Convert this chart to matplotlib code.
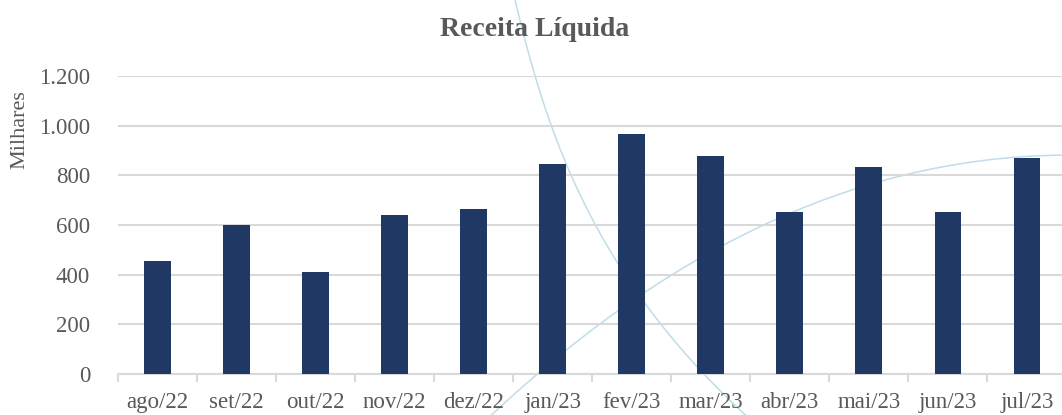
import numpy as np
import matplotlib.pyplot as plt
from matplotlib.lines import Line2D
from matplotlib.ticker import FuncFormatter, FixedLocator

meses = ["ago/22", "set/22", "out/22", "nov/22", "dez/22", "jan/23",
         "fev/23", "mar/23", "abr/23", "mai/23", "jun/23", "jul/23"]
receita = [457, 601, 410, 641, 665, 847, 967, 879, 651, 834, 651, 869]

# decorative background arcs (pixel coords of the 1062x415 image)
arco_desce_x = [515, 535, 552, 570, 680, 743]
arco_desce_y = [0, 76, 125, 175, 347, 413]
arco_sobe_x = [490, 540, 613, 680, 793, 880, 980, 1062]
arco_sobe_y = [415, 373, 317, 268, 210, 182, 163, 154]

plt.rcParams['font.family'] = ['Liberation Serif', 'DejaVu Serif']
cinza = "#595959"
grade = "#D9D9D9"

W, H = 1062, 415
fig = plt.figure(figsize=(W / 100, H / 100), dpi=100)
ax = fig.add_axes([118 / W, 1 - 374 / H, 948.5 / W, 298 / H])
ax.patch.set_alpha(0)

# smooth fits so the arcs have no kinks
yy = np.linspace(-10, 425, 200)
xx = np.polyval(np.polyfit(arco_desce_y, arco_desce_x, 3), yy)
fig.add_artist(Line2D(xx / W, 1 - yy / H, transform=fig.transFigure,
                      color="#BFDDEA", lw=1.1, zorder=-1))
xx = np.linspace(470, 1070, 200)
yy = np.polyval(np.polyfit(arco_sobe_x, arco_sobe_y, 3), xx)
fig.add_artist(Line2D(xx / W, 1 - yy / H, transform=fig.transFigure,
                      color="#BFDDEA", lw=1.1, zorder=-1))

x = range(len(meses))
ax.bar(x, receita, width=0.34, color="#203864", zorder=3)

ax.set_xlim(-0.5, len(meses) - 0.5)
ax.set_ylim(0, 1200)
ax.set_yticks(range(0, 1201, 200))
ax.yaxis.set_major_formatter(FuncFormatter(lambda v, p: f"{int(v):,}".replace(",", ".")))
ax.set_xticks(list(x))
ax.set_xticklabels(meses)
ax.xaxis.set_minor_locator(FixedLocator([i - 0.5 for i in range(len(meses) + 1)]))

ax.grid(axis="y", color=grade, lw=1.5, zorder=0)
for s in ("top", "right", "left"):
    ax.spines[s].set_visible(False)
ax.spines["bottom"].set_color(grade)
ax.spines["bottom"].set_linewidth(1.5)

ax.tick_params(axis="x", which="major", length=0, pad=13, labelsize=16.5, labelcolor=cinza)
ax.tick_params(axis="x", which="minor", length=6, width=1.5, color=grade)
ax.tick_params(axis="y", length=0, pad=20, labelsize=16.5, labelcolor=cinza)

ax.set_ylabel("Milhares", fontsize=16, color=cinza)
ax.yaxis.set_label_coords(-0.093, 0.82)

fig.text(535 / W, 1 - 29 / H, "Receita Líquida", ha="center", va="center",
         fontsize=20, fontweight="bold", color=cinza)

fig.savefig("out.png", dpi=100)
